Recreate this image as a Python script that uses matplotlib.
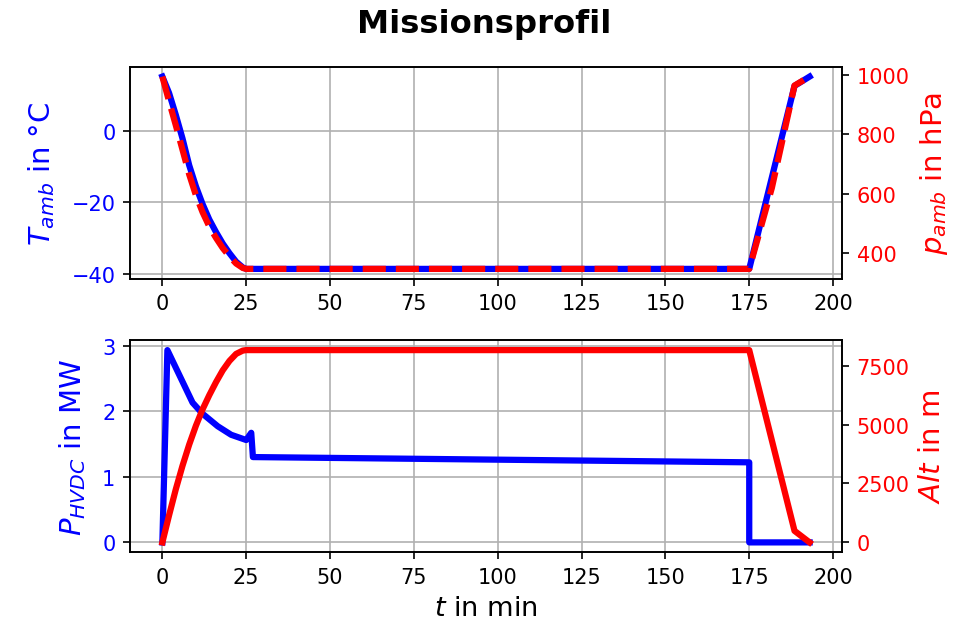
import matplotlib
matplotlib.use("Agg")
import matplotlib.pyplot as plt

# mission profile, values
t_env = [0, 2, 4, 6, 8, 10, 12, 14, 16, 18, 20, 22, 24, 25, 175, 181.75, 188.5, 193]
T_amb = [15.2, 10.6, 4.5, -2.1, -9.6, -15.5, -20.5, -24.8, -28.3, -31.5,
         -34.2, -36.6, -38.2, -38.6, -38.6, -13.0, 12.6, 15.2]
p_amb = [993, 910, 830, 748, 665, 595, 538, 490, 452, 418,
         390, 366, 351, 348, 348, 620, 963, 993]

t_alt = [0, 2, 4, 6, 8, 10, 12, 14, 16, 18, 20, 22, 24, 25, 175, 188.5, 193]
alt = [0, 1150, 2250, 3250, 4150, 4950, 5650, 6250, 6800, 7300,
       7700, 8000, 8140, 8160, 8160, 490, 0]

t_pow = [0, 1.5, 9, 12, 16.5, 20.5, 25, 26.5, 27, 175, 175, 193]
P_hvdc = [0, 2.93, 2.13, 1.96, 1.77, 1.64, 1.56, 1.67, 1.30, 1.22, 0, 0]

alt_ticks = [0, 2500, 5000, 7500]

LW = 3

fig, (ax1, ax3) = plt.subplots(2, 1, figsize=(968 / 150, 626 / 150), dpi=150)
fig.subplots_adjust(left=0.1343, right=0.8698, top=0.8914, bottom=0.1166,
                    hspace=0.293)
fig.suptitle("Missionsprofil", fontsize=15.5, fontweight="bold", y=0.985)

# top: ambient temperature and pressure
ax1.plot(t_env, T_amb, color="blue", linewidth=LW)
ax1.set_ylabel(r"$T_{amb}$ in °C", color="blue", fontsize=14, labelpad=7)
ax1.tick_params(axis="y", labelcolor="blue")
ax1.grid(True)

ax2 = ax1.twinx()
ax2.plot(t_env, p_amb, color="red", linewidth=LW, linestyle="--")
ax2.set_ylabel(r"$p_{amb}$ in hPa", color="red", fontsize=14)
ax2.tick_params(axis="y", labelcolor="red")

# bottom: HVDC power and altitude
ax3.plot(t_pow, P_hvdc, color="blue", linewidth=LW)
ax3.set_ylabel(r"$P_{HVDC}$ in MW", color="blue", fontsize=14, labelpad=7)
ax3.set_xlabel(r"$t$ in min", fontsize=13)
ax3.tick_params(axis="y", labelcolor="blue")
ax3.grid(True)

ax4 = ax3.twinx()
ax4.plot(t_alt, alt, color="red", linewidth=LW)
ax4.set_yticks(alt_ticks)
ax4.set_ylabel(r"$Alt$ in m", color="red", fontsize=14)
ax4.tick_params(axis="y", labelcolor="red")

plt.savefig("out.png", dpi=150)
